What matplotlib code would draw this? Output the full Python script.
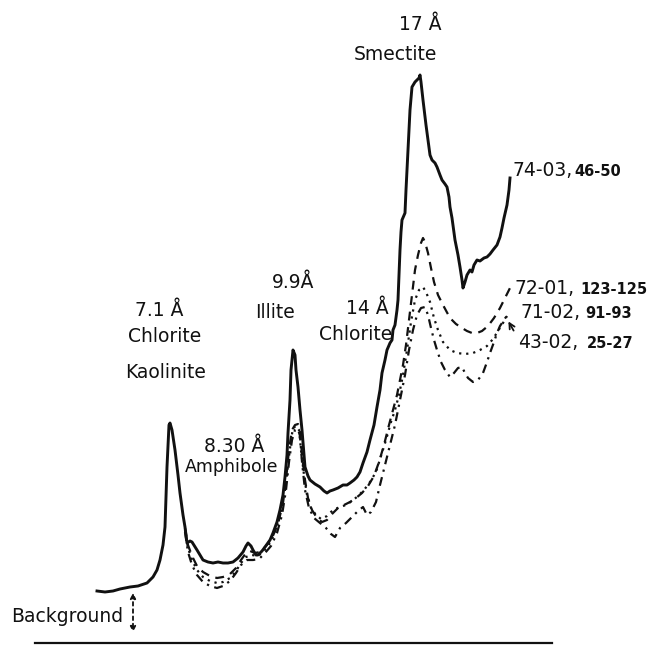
import matplotlib.pyplot as plt
import numpy as np

# scan position (arbitrary units, low 2-theta on the right) and peak height above the base line
pos_7403 = [97, 105, 113, 120, 130, 138, 147, 153, 157, 160, 163, 165, 167, 169, 170, 172, 175, 178, 180, 183,
            185, 187, 190, 192, 197, 203, 208, 213, 218, 223, 228, 233, 238, 243, 246, 248, 251, 253, 256, 258,
            262, 265, 270, 273, 277, 280, 283, 285, 287, 288, 290, 291, 293, 295, 296, 298, 300, 302, 304, 305,
            308, 310, 315, 320, 324, 327, 330, 333, 338, 343, 347, 350, 354, 357, 360, 363, 367, 370, 374, 377,
            380, 382, 385, 387, 390, 392, 393, 395, 397, 398, 399, 400, 401, 402, 405, 406, 408, 410, 412, 415,
            417, 419, 420, 421, 423, 426, 428, 430, 432, 435, 437, 440, 442, 445, 447, 449, 450, 452, 455, 458,
            460, 462, 463, 465, 467, 470, 472, 474, 477, 480, 484, 487, 490, 493, 497, 500, 502, 504, 507, 509, 510]
int_7403 = [52, 51, 52, 54, 56, 57, 60, 66, 73, 83, 98, 116, 176, 218, 220, 213, 193, 168, 150, 128,
            116, 100, 102, 101, 93, 83, 81, 80, 81, 80, 80, 81, 85, 91, 97, 100, 97, 93, 88, 88,
            92, 96, 103, 110, 121, 133, 148, 166, 188, 210, 243, 273, 293, 288, 273, 256, 233, 213, 188, 176,
            167, 163, 159, 156, 152, 150, 152, 153, 155, 158, 158, 160, 163, 166, 171, 180, 191, 203, 218, 236,
            253, 270, 283, 293, 300, 303, 313, 318, 333, 343, 368, 393, 411, 423, 430, 453, 493, 533, 556, 561,
            563, 565, 568, 561, 543, 518, 503, 488, 483, 480, 476, 468, 463, 459, 456, 446, 436, 425, 403, 388,
            376, 363, 355, 361, 368, 373, 371, 378, 383, 382, 385, 386, 389, 393, 398, 406, 415, 425, 438, 453, 465]

pos_7201 = [185, 188, 192, 197, 203, 210, 217, 223, 230, 236, 241, 246, 250, 255, 260, 266, 272, 278, 283, 286,
            289, 292, 295, 298, 300, 302, 305, 308, 312, 317, 322, 327, 332, 338, 344, 350, 356, 362, 368, 374,
            379, 384, 389, 393, 397, 400, 403, 406, 409, 412, 415, 418, 421, 423, 425, 428, 431, 434, 438, 443,
            450, 456, 462, 467, 472, 477, 482, 488, 494, 500, 505, 510]
int_7201 = [115, 98, 87, 77, 71, 67, 65, 66, 69, 75, 83, 90, 92, 90, 91, 97, 105, 119, 140, 163,
            193, 213, 218, 219, 213, 188, 163, 145, 133, 125, 121, 123, 129, 135, 138, 141, 145, 150, 157, 167,
            181, 198, 218, 233, 248, 263, 278, 298, 323, 348, 373, 388, 400, 405, 401, 390, 375, 361, 348, 338,
            325, 319, 315, 312, 310, 310, 312, 317, 325, 335, 345, 355]

pos_7102 = [185, 188, 192, 197, 203, 210, 217, 223, 230, 236, 241, 246, 252, 258, 264, 270, 276, 281, 285, 288,
            291, 293, 296, 299, 301, 304, 307, 311, 316, 321, 327, 333, 340, 346, 352, 358, 364, 370, 376, 381,
            386, 391, 395, 399, 403, 407, 411, 415, 419, 423, 426, 430, 434, 438, 443, 450, 457, 465, 473, 480,
            487, 493, 498, 503, 507]
int_7102 = [113, 95, 83, 73, 66, 62, 60, 61, 65, 72, 80, 86, 88, 87, 92, 100, 113, 131, 153, 178,
            203, 215, 217, 213, 193, 168, 148, 135, 128, 124, 127, 133, 136, 138, 142, 147, 153, 161, 171, 187,
            203, 221, 233, 248, 268, 293, 321, 343, 353, 356, 351, 341, 325, 313, 301, 293, 290, 289, 290, 293,
            297, 304, 312, 320, 327]

pos_4302 = [185, 188, 192, 197, 203, 210, 217, 223, 230, 236, 241, 247, 253, 259, 265, 271, 277, 282, 286, 289,
            292, 295, 298, 300, 302, 305, 309, 314, 320, 326, 331, 335, 340, 346, 352, 358, 363, 367, 371, 376,
            380, 385, 390, 395, 400, 405, 409, 413, 417, 421, 425, 428, 431, 434, 437, 441, 445, 450, 454, 458,
            462, 465, 468, 473, 478, 483, 487, 490, 494, 497, 500, 504, 508]
int_4302 = [111, 91, 78, 68, 61, 57, 55, 57, 62, 70, 78, 83, 83, 84, 90, 97, 110, 128, 153, 181,
            203, 213, 214, 207, 181, 153, 135, 125, 120, 115, 109, 106, 115, 120, 126, 132, 136, 128, 131, 141,
            158, 178, 198, 218, 243, 268, 293, 313, 328, 335, 336, 328, 315, 303, 293, 281, 273, 266, 270, 275,
            276, 270, 265, 261, 263, 270, 281, 290, 301, 310, 317, 323, 329]

samples = ['74-03,', '72-01,', '71-02,', '43-02,']
intervals = ['46-50', '123-125', '91-93', '25-27']

# peak labels: (text, x, y, size)
peaks = [('17 Å', 420, 618, 13.5), ('Smectite', 395, 588, 13.5),
         ('7.1 Å', 159, 333, 13.5), ('Chlorite', 165, 307, 13.5), ('Kaolinite', 166, 271, 13.5),
         ('9.9Å', 293, 361, 13.5), ('Illite', 275, 330, 13.5),
         ('14 Å', 367, 335, 13.5), ('Chlorite', 356, 308, 13.5),
         ('8.30 Å', 234, 196, 13.5), ('Amphibole', 232, 176, 12.5)]

fig = plt.figure(figsize=(6.59, 6.45), dpi=100)
ax = fig.add_axes([0, 0, 1, 1])
ax.set_xlim(0, 659)
ax.set_ylim(-2, 643)
ax.axis('off')

ink = '#111111'
ax.plot(pos_7403, int_7403, color=ink, lw=2.1, solid_joinstyle='round')
ax.plot(pos_7201, int_7201, color=ink, lw=1.6, dashes=(4, 3))
ax.plot(pos_7102, int_7102, color=ink, lw=1.6, dashes=(1, 2.2))
ax.plot(pos_4302, int_4302, color=ink, lw=1.6, dashes=(4, 2.5, 1, 2.5))

# base line
ax.plot([35, 552], [0, 0], color=ink, lw=1.6, clip_on=False)

for txt, x, y, s in peaks:
    ax.text(x, y, txt, fontsize=s, ha='center', va='center', color=ink)

# sample labels at the right end of each trace
ends = [(512, 473), (515, 355), (520, 330), (518, 301)]
gaps = [62, 65, 65, 69]
for (x, y), name, iv, g in zip(ends, samples, intervals, gaps):
    ax.text(x, y, name, fontsize=13.5, ha='left', va='center', color=ink)
    ax.text(x + g, y - 1, iv, fontsize=10.5, fontweight='bold', ha='left', va='center', color=ink)

ax.annotate('', xy=(507, 324), xytext=(515, 310),
            arrowprops=dict(arrowstyle='->', color=ink, lw=1.3))

# background marker
ax.annotate('', xy=(133, 8), xytext=(133, 53),
            arrowprops=dict(arrowstyle='<|-|>', color=ink, lw=1.3, linestyle=(0, (2, 2)),
                            mutation_scale=8))
ax.text(123, 26, 'Background', fontsize=13.5, ha='right', va='center', color=ink)

plt.savefig('out.png', dpi=100)
